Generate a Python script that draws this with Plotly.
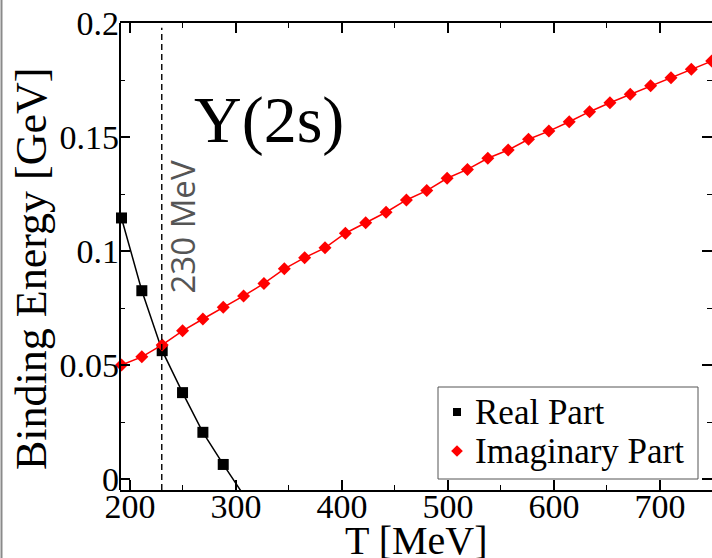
import plotly.graph_objects as go

# Temperature grid (MeV)
T_MEV = [192.0, 211.2, 230.4, 249.6, 268.8, 288.0, 307.2, 326.4, 345.6, 364.8,
         384.0, 403.2, 422.4, 441.6, 460.8, 480.0, 499.2, 518.4, 537.6, 556.8,
         576.0, 595.2, 614.4, 633.6, 652.8, 672.0, 691.2, 710.4, 729.6, 748.8]

# Real part of the binding energy (GeV), first seven temperatures
REAL_T = [192.0, 211.2, 230.4, 249.6, 268.8, 288.0, 307.2]
REAL_E = [0.1145, 0.0826, 0.0563, 0.0379, 0.0205, 0.0064, -0.0070]

# Imaginary part (GeV) on the full grid
IMAG_E = [0.0500, 0.0536, 0.0588, 0.0650, 0.0702, 0.0753, 0.0803, 0.0858, 0.0922, 0.0971,
          0.1014, 0.1078, 0.1124, 0.1170, 0.1224, 0.1265, 0.1319, 0.1358, 0.1407, 0.1443,
          0.1490, 0.1526, 0.1567, 0.1611, 0.1650, 0.1687, 0.1725, 0.1760, 0.1797, 0.1833]

T_MARK = 230  # MeV, dashed marker line

Y_TICKS = [0, 0.05, 0.1, 0.15, 0.2]
Y_TICKTEXT = ["0", "0.05", "0.1", "0.15", "0.2"]

SERIES_NAMES = ["Real Part", "Imaginary Part"]

SERIF = "Liberation Serif, Times New Roman, serif"
RED = "#ff0000"

# plot area in pixels (for placing paper-referenced items)
PL, PR, PT, PB = 120, 712, 23, 490


def px(x):
    return (x - PL) / (PR - PL)


def py(y):
    return (PB - y) / (PB - PT)


fig = go.Figure()

# real part: full line (clipped at the axis) + visible markers
fig.add_trace(go.Scatter(x=REAL_T, y=REAL_E, mode="lines",
                         line=dict(color="black", width=1.5),
                         showlegend=False, hoverinfo="skip"))
vis = [(t, e) for t, e in zip(REAL_T, REAL_E) if e >= 0]
fig.add_trace(go.Scatter(x=[v[0] for v in vis], y=[v[1] for v in vis], mode="markers",
                         marker=dict(symbol="square", size=11, color="black"),
                         cliponaxis=False, showlegend=False, name=SERIES_NAMES[0]))

# imaginary part
fig.add_trace(go.Scatter(x=T_MEV, y=IMAG_E, mode="lines+markers",
                         line=dict(color=RED, width=1.5),
                         marker=dict(symbol="diamond", size=10, color=RED),
                         cliponaxis=False, showlegend=False, name=SERIES_NAMES[1]))

# legend box: frame, symbols (on an overlay axis spanning the plot area) and labels
LEG_X0, LEG_X1, LEG_Y0, LEG_Y1 = 438, 698, 387, 479
LEG_SYM_X = 457
LEG_ROWS = [412, 451]
fig.add_shape(type="rect", xref="paper", yref="paper", layer="below",
              x0=px(LEG_X0), x1=px(LEG_X1), y0=py(LEG_Y1), y1=py(LEG_Y0),
              line=dict(color="#555555", width=1), fillcolor="white")
fig.add_trace(go.Scatter(x=[px(LEG_SYM_X)], y=[py(LEG_ROWS[0])], mode="markers",
                         xaxis="x2", yaxis="y2", showlegend=False, hoverinfo="skip",
                         marker=dict(symbol="square", size=8, color="black")))
fig.add_trace(go.Scatter(x=[px(LEG_SYM_X)], y=[py(LEG_ROWS[1])], mode="markers",
                         xaxis="x2", yaxis="y2", showlegend=False, hoverinfo="skip",
                         marker=dict(symbol="diamond", size=9, color=RED)))
for name, row in zip(SERIES_NAMES, LEG_ROWS):
    fig.add_annotation(text=name, xref="paper", yref="paper",
                       x=px(473), y=py(row), xanchor="left", yanchor="middle",
                       showarrow=False, font=dict(family=SERIF, size=35, color="black"))

# vertical dashed line at 230 MeV
fig.add_shape(type="line", xref="x", yref="paper", x0=T_MARK, x1=T_MARK, y0=0, y1=0.99,
              line=dict(color="black", width=1.4, dash="6px,4px"))

# left axis line (the right side only carries ticks)
fig.add_shape(type="line", xref="paper", yref="paper", x0=0, x1=0, y0=0, y1=1,
              line=dict(color="black", width=2))

# thin grey frame on the left edge of the page
fig.add_shape(type="line", xref="paper", yref="paper",
              x0=px(1.5), x1=px(1.5), y0=-0.2, y1=1.1,
              line=dict(color="#8a8a8a", width=2))

axis_common = dict(showgrid=False, zeroline=False, linecolor="black",
                   linewidth=2, mirror="allticks", ticks="inside", ticklen=10,
                   tickwidth=1.5, tickcolor="black",
                   tickfont=dict(family=SERIF, size=34, color="black"))

fig.update_xaxes(range=[190.6, 749.1], tickmode="linear", tick0=0, dtick=100,
                 ticklabelstandoff=-15, showline=True,
                 minor=dict(ticks="inside", ticklen=5, tick0=0, dtick=50,
                            tickcolor="black", tickwidth=1.2),
                 **axis_common)
fig.update_yaxes(range=[-0.0048, 0.2], tickmode="array", tickvals=Y_TICKS,
                 ticktext=Y_TICKTEXT, ticklabelstandoff=0, showline=False,
                 minor=dict(ticks="inside", ticklen=5, tick0=0, dtick=0.025,
                            tickcolor="black", tickwidth=1.2),
                 **axis_common)

fig.update_layout(
    xaxis2=dict(overlaying="x", range=[0, 1], visible=False, fixedrange=True),
    yaxis2=dict(overlaying="y", range=[0, 1], visible=False, fixedrange=True),
)

fig.add_annotation(text="Binding Energy [GeV]", xref="paper", yref="paper",
                   x=px(31), y=py(269), xanchor="center", yanchor="middle",
                   textangle=-90, showarrow=False,
                   font=dict(family=SERIF, size=44, color="black"))
fig.add_annotation(text="T [MeV]", xref="paper", yref="paper",
                   x=0.5, y=py(540), xanchor="center", yanchor="middle",
                   showarrow=False, font=dict(family=SERIF, size=40, color="black"))
fig.add_annotation(text="Y(2s)", xref="paper", yref="paper",
                   x=px(269), y=py(120), xanchor="center", yanchor="middle",
                   showarrow=False, font=dict(family=SERIF, size=66, color="black"))
fig.add_annotation(text="230 MeV", xref="paper", yref="paper",
                   x=px(182), y=py(227.5),
                   xanchor="center", yanchor="middle", textangle=-90,
                   showarrow=False, font=dict(family="Open Sans", size=33, color="#555555"))

fig.update_layout(
    width=712, height=558,
    margin=dict(l=PL, r=712 - PR, t=PT, b=558 - PB),
    paper_bgcolor="white", plot_bgcolor="white",
    showlegend=False,
)

fig.write_html("out.html")
